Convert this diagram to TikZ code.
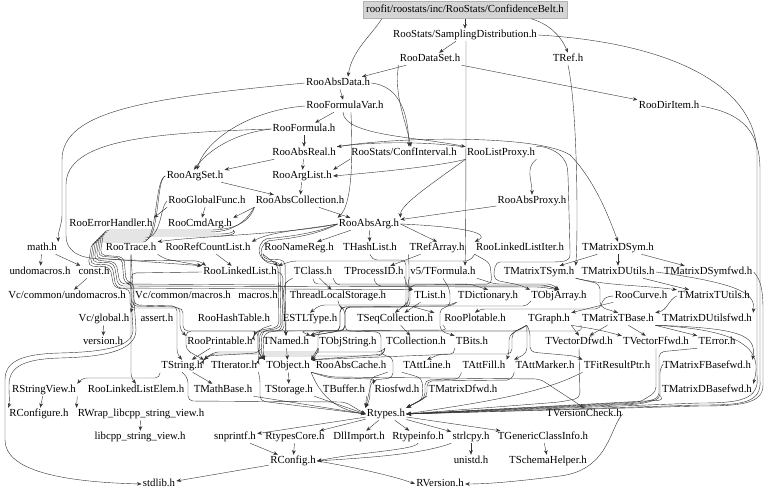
\documentclass[tikz,border=0pt]{standalone}
\usepackage{fontspec}
\setmainfont{Liberation Serif}
\usetikzlibrary{arrows.meta}
\begin{document}
\begin{tikzpicture}[x=1pt,y=-1pt,
  lbl/.style={inner sep=1.2pt,font=\fontsize{10.8}{12}\selectfont,text height=7.4pt,text depth=2.3pt},
  ed/.style={draw=black!80,line width=0.4pt,-{Stealth[length=4.6pt,width=3.6pt]}},
  bd/.style={ed,rounded corners=5pt}]
\useasboundingbox (0,0) rectangle (768,497);
\fill[white] (0,0) rectangle (768,497);
\node[lbl,draw=black!30,fill=black!17,minimum width=204pt,minimum height=17pt] (root) at (465,10) {roofit/roostats/inc/RooStats/ConfidenceBelt.h};
\node[lbl] (samp) at (465,35) {RooStats/SamplingDistribution.h};
\node[lbl] (dataset) at (430,59) {RooDataSet.h};
\node[lbl] (tref) at (568,59) {TRef.h};
\node[lbl] (absdata) at (338,83) {RooAbsData.h};
\node[lbl] (formvar) at (345,106) {RooFormulaVar.h};
\node[lbl] (diritem) at (669,106) {RooDirItem.h};
\node[lbl] (formula) at (304,129) {RooFormula.h};
\node[lbl] (absreal) at (304,153) {RooAbsReal.h};
\node[lbl] (confint) at (404,153) {RooStats/ConfInterval.h};
\node[lbl] (listproxy) at (501,153) {RooListProxy.h};
\node[lbl] (argset) at (195,176) {RooArgSet.h};
\node[lbl] (arglist) at (302,176) {RooArgList.h};
\node[lbl] (globalfunc) at (207,201) {RooGlobalFunc.h};
\node[lbl] (abscoll) at (300,201) {RooAbsCollection.h};
\node[lbl] (absproxy) at (532,201) {RooAbsProxy.h};
\node[lbl] (errhandler) at (111,224) {RooErrorHandler.h};
\node[lbl] (cmdarg) at (200,224) {RooCmdArg.h};
\node[lbl] (absarg) at (369,224) {RooAbsArg.h};
\node[lbl] (math) at (42,248) {math.h};
\node[lbl] (trace) at (131,248) {RooTrace.h};
\node[lbl] (refcount) at (208,248) {RooRefCountList.h};
\node[lbl] (namereg) at (299,248) {RooNameReg.h};
\node[lbl] (hashlist) at (370,248) {THashList.h};
\node[lbl] (refarray) at (437,248) {TRefArray.h};
\node[lbl] (llistiter) at (520,248) {RooLinkedListIter.h};
\node[lbl] (mdsym) at (618,248) {TMatrixDSym.h};
\node[lbl] (undomacros) at (40,272) {undomacros.h};
\node[lbl] (const) at (94,272) {const.h};
\node[lbl] (llist) at (240,272) {RooLinkedList.h};
\node[lbl] (tclass) at (313,272) {TClass.h};
\node[lbl] (procid) at (374,272) {TProcessID.h};
\node[lbl] (tformula) at (443,272) {v5/TFormula.h};
\node[lbl] (mtsym) at (539,272) {TMatrixTSym.h};
\node[lbl] (mdutils) at (618,272) {TMatrixDUtils.h};
\node[lbl] (mdsymfwd) at (708,272) {TMatrixDSymfwd.h};
\node[lbl] (vcundo) at (67,296) {Vc/common/undomacros.h};
\node[lbl] (vcmacros) at (183,296) {Vc/common/macros.h};
\node[lbl] (macros) at (258,296) {macros.h};
\node[lbl] (tls) at (338,296) {ThreadLocalStorage.h};
\node[lbl] (tlist) at (430,296) {TList.h};
\node[lbl] (tdict) at (488,296) {TDictionary.h};
\node[lbl] (tobjarray) at (559,296) {TObjArray.h};
\node[lbl] (curve) at (641,296) {RooCurve.h};
\node[lbl] (mtutils) at (714,296) {TMatrixTUtils.h};
\node[lbl] (vcglobal) at (104,319) {Vc/global.h};
\node[lbl] (assert) at (157,319) {assert.h};
\node[lbl] (hashtable) at (234,319) {RooHashTable.h};
\node[lbl] (estl) at (310,319) {ESTLType.h};
\node[lbl] (seqcoll) at (395,319) {TSeqCollection.h};
\node[lbl] (plotable) at (475,319) {RooPlotable.h};
\node[lbl] (tgraph) at (549,319) {TGraph.h};
\node[lbl] (mtbase) at (618,319) {TMatrixTBase.h};
\node[lbl] (mdutilsfwd) at (707,319) {TMatrixDUtilsfwd.h};
\node[lbl] (version) at (103,342) {version.h};
\node[lbl] (printable) at (220,342) {RooPrintable.h};
\node[lbl] (tnamed) at (286,342) {TNamed.h};
\node[lbl] (objstring) at (348,342) {TObjString.h};
\node[lbl] (tcollection) at (416,342) {TCollection.h};
\node[lbl] (tbits) at (472,342) {TBits.h};
\node[lbl] (vdfwd) at (579,342) {TVectorDfwd.h};
\node[lbl] (vffwd) at (656,342) {TVectorFfwd.h};
\node[lbl] (terror) at (717,342) {TError.h};
\node[lbl] (tstring) at (182,366) {TString.h};
\node[lbl] (titerator) at (234,366) {TIterator.h};
\node[lbl] (tobject) at (288,366) {TObject.h};
\node[lbl] (abscache) at (351,366) {RooAbsCache.h};
\node[lbl] (attline) at (427,366) {TAttLine.h};
\node[lbl] (attfill) at (484,366) {TAttFill.h};
\node[lbl] (attmarker) at (545,366) {TAttMarker.h};
\node[lbl] (fitresptr) at (617,366) {TFitResultPtr.h};
\node[lbl] (mfbasefwd) at (707,366) {TMatrixFBasefwd.h};
\node[lbl] (rstringview) at (44,390) {RStringView.h};
\node[lbl] (llelem) at (136,390) {RooLinkedListElem.h};
\node[lbl] (mathbase) at (223,390) {TMathBase.h};
\node[lbl] (tstorage) at (289,390) {TStorage.h};
\node[lbl] (tbuffer) at (344,390) {TBuffer.h};
\node[lbl] (riosfwd) at (397,390) {Riosfwd.h};
\node[lbl] (mdfwd) at (463,390) {TMatrixDfwd.h};
\node[lbl] (mdbasefwd) at (707,390) {TMatrixDBasefwd.h};
\node[lbl] (rconfigure) at (39,414) {RConfigure.h};
\node[lbl] (rwrap) at (141,414) {RWrap\_libcpp\_string\_view.h};
\node[lbl] (rtypes) at (386,414) {Rtypes.h};
\node[lbl] (versioncheck) at (584,414) {TVersionCheck.h};
\node[lbl] (libcpp) at (140,437) {libcpp\_string\_view.h};
\node[lbl] (snprintf) at (235,437) {snprintf.h};
\node[lbl] (rtypescore) at (295,437) {RtypesCore.h};
\node[lbl] (dllimport) at (359,437) {DllImport.h};
\node[lbl] (rtypeinfo) at (418,437) {Rtypeinfo.h};
\node[lbl] (strlcpy) at (471,437) {strlcpy.h};
\node[lbl] (genclass) at (543,437) {TGenericClassInfo.h};
\node[lbl] (rconfig) at (293,461) {RConfig.h};
\node[lbl] (unistd) at (471,461) {unistd.h};
\node[lbl] (schemahelper) at (548,461) {TSchemaHelper.h};
\node[lbl] (stdlib) at (159,484) {stdlib.h};
\node[lbl] (rversion) at (440,484) {RVersion.h};
% top
\draw[ed] (root) -- (samp);
\draw[ed] ([xshift=19pt]root.south west) .. controls (372,35) and (352,50) .. ([xshift=10pt]absdata.north);
\draw[ed] ([xshift=-36pt]root.south east) .. controls (548,24) and (560,34) .. (tref.north);
\draw[ed] (samp) -- (dataset);
\draw[ed] ([xshift=1pt]samp.south) .. controls (466,130) and (466,235) .. ([xshift=22pt]tformula.north);
\draw[ed] (samp.east) .. controls (660,42) and (752,80) .. (757,150) -- (757,375) .. controls (760,400) and (740,403) .. (700,403) -- (rtypes.east);
\draw[ed] (diritem.east) .. controls (735,112) and (760,125) .. (760,170) -- (760,380) .. controls (762,404) and (740,405) .. (700,405) -- (rtypes.east);
\draw[ed] (dataset) -- (diritem);
\draw[ed] (dataset) -- (absdata);
\draw[ed] (absdata.east) .. controls (398,86) and (408,110) .. ([xshift=5pt]confint.north);
\draw[ed] (dataset.south west) .. controls (394,96) and (405,118) .. ([xshift=7pt]confint.north);
\draw[ed] (absdata) -- (formvar);
\draw[ed] (formvar) -- (formula);
\draw[ed] (formula) -- (absreal);
\draw[ed] (absreal) -- (arglist);
\draw[ed] (arglist) -- (abscoll);
\draw[ed] ([xshift=-2pt]formvar.south) .. controls (344,136) and (420,137) .. (listproxy.north west);
\draw[ed] (formvar.west) .. controls (250,110) and (205,140) .. ([xshift=2pt]argset.north);
\draw[ed] (formula.west) .. controls (235,133) and (208,150) .. ([xshift=-1pt]argset.north);
\draw[ed] (absreal) -- (argset);
\draw[ed] ([xshift=-34pt]formvar.south east) .. controls (353,160) and (352,205) .. (absarg.north west);
\draw[ed] (listproxy.south west) .. controls (440,166) and (380,172) .. (arglist.east);
\draw[ed] ([xshift=-2pt]listproxy.north west) .. controls (420,141) and (370,142) .. (absreal.north east);
\draw[ed] (listproxy.south west) .. controls (430,185) and (400,205) .. (absarg.north east);
\draw[ed] (listproxy.south east) .. controls (525,168) and (532,180) .. (absproxy.north);
\draw[ed] (absproxy) -- (absarg);
\draw[ed] (confint.south west) -- (arglist.north east);
\draw[ed] (argset) -- (abscoll);
\draw[ed] (abscoll) -- (absarg);
\draw[ed] (abscoll.south west) -- (cmdarg.north east);
\draw[ed] (globalfunc) -- (cmdarg);
\draw[ed] (globalfunc.south west) -- (errhandler.north east);
\draw[ed] (absarg) -- (hashlist);
\draw[ed] (absarg) -- (namereg);
\draw[ed] (absarg.east) -- (refarray.north);
\draw[ed] (absarg.east) .. controls (450,226) and (495,232) .. (llistiter.north west);
\draw[ed] (absarg.west) .. controls (300,230) and (270,232) .. (refcount.north east);
\draw[ed] (absarg.west) .. controls (290,234) and (200,236) .. (trace.north east);
\draw[ed] (mdsym) -- (mtsym);
\draw[ed] (mdsym) -- (mdutils);
\draw[ed] (mdsym) -- (mdsymfwd);
\draw[ed] (tref.south) .. controls (578,110) and (578,240) .. (mtsym.north east);
\draw[ed] (absreal.north east) .. controls (400,136) and (540,135) .. (570,155) .. controls (595,180) and (610,220) .. (mdsym.north);
\draw[bd] (listproxy.north east) .. controls (540,145) and (566,150) .. (568,175) -- (570,250) .. controls (570,262) and (560,262) .. (545,262) -- (505,262) .. controls (495,262) and (494,270) .. (494,280) -- (520,285) -- (tobjarray.north west);
% left long
\draw[ed] (absdata.west) .. controls (150,98) and (62,110) .. (62,160) -- (62,215) .. controls (62,225) and (58,230) .. (math.north east);
\draw[bd] (formula.west) .. controls (150,133) and (66,140) .. (66,190) -- (66,230) .. controls (66,255) and (85,259) .. (110,259) -- (llist.north west);
% trunk
\draw[bd] (cmdarg.south east) .. controls (236,232) and (228,234) .. (215,234) -- (100,234) -- (96,258) -- (120,260) -- (200,261) -- ([xshift=4pt]llist.north west);
\draw[bd] (cmdarg.south east) .. controls (238,234) and (228,236) .. (215,236) -- (98,236) -- (94,260) -- (116,262) -- (120,284) -- (283,285) -- (tnamed.north);
\draw[bd] (globalfunc.west) .. controls (160,206) and (162,238) .. (140,238) -- (96,238) -- (92,262) -- (114,263) -- (118,286) -- (540,287) -- (tobjarray.north);
\draw[bd] (argset.west) .. controls (156,178) and (160,240) .. (140,240) -- (94,240) -- (90,264) -- (112,265) -- (116,288) -- (tlist.north west);
\draw[bd] (argset.west) .. controls (154,180) and (158,242) .. (138,242) -- (92,242) -- (88,266) -- (110,267) -- (114,288) -- (130,289) -- (130,308) -- (183,308) -- (183,331) -- (258,331) -- (258,353) -- (tobject.north west);
\draw[bd] (abscoll.south west) .. controls (250,214) and (240,232) .. (205,232) -- (102,232) -- (98,256) -- (122,258) -- (124,283) -- (132,284) -- (132,306) -- (180,307) -- (180,330) -- (printable.north west);
\draw[bd] (abscoll.south west) .. controls (252,216) and (242,230) .. (205,230) -- (104,230) -- (100,255) -- (124,257) -- (126,282) -- (134,283) -- (134,305) -- (177,306) -- (177,354) -- (tstring.north);
\draw[bd] (absarg.west) .. controls (310,236) and (270,238) .. (262,240) -- (258,252) -- (264,261) -- (280,262) -- (281,328) -- (262,331) -- (261,354) -- (tobject.north west);
\draw[bd] (absarg.west) .. controls (312,238) and (272,240) .. (264,242) -- (260,254) -- (266,263) -- (278,264) -- (279,327) -- (255,331) -- (printable.north east);
\draw[bd] (llist.east) -- (283,273) -- (282,330) -- (264,333) -- (263,355) -- (tobject.north west);
% 248 row
\draw[bd] (trace.south east) -- (165,259) -- (llist.north west);
\draw[ed] (refcount) -- (llist);
\draw[bd] (namereg.south west) -- (263,259) -- (285,260) -- (tnamed.north);
\draw[ed] (namereg.south west) -- (llist.north east);
\draw[bd] (hashlist.south) -- (372,260) -- (406,260) -- (406,287) -- (tlist.north west);
\draw[bd] (refarray.south west) -- (409,262) -- (409,302) -- (seqcoll.north);
\draw[ed] (refarray) -- (procid);
\draw[bd] (llistiter.south west) -- (470,261) -- (292,261) -- (llist.north east);
\draw[bd] (llistiter.south west) -- (490,263) -- (492,284) -- (410,285) -- (410,307) -- (345,307) -- (345,331) -- (260,331) -- (259,355) -- (titerator.north east);
% 272 row
\draw[ed] (math) -- (undomacros);
\draw[ed] (math) -- (const);
\draw[ed] (const) -- (vcundo);
\draw[bd] (tclass.south) -- (313,284) -- (470,284) -- (tdict.north);
\draw[ed] (tclass) -- (tls);
\draw[bd] (tclass.south east) -- (335,285) -- (545,285) -- (tobjarray.north);
\draw[bd] (tclass.south west) -- (284,283) -- (284,331) -- (186,331) -- (186,350) -- (tstring.north east);
\draw[bd] (procid.south) -- (376,286) -- (548,286) -- (tobjarray.north);
\draw[bd] (procid.south east) -- (406,281) -- (406,307) -- (340,307) -- (340,331) -- (300,331) -- (tnamed.north east);
\draw[bd] (tformula.south) -- (450,290) -- (450,307) -- (440,308) -- (440,331) -- (tbits.north west);
\draw[bd] (tformula.south east) -- (495,284) -- (552,284) -- (tobjarray.north);
\draw[bd] (tformula.south west) -- (408,282) -- (408,307) -- (345,307) -- (345,330) -- (tnamed.north east);
\draw[bd] (mtsym.south east) -- (600,284) -- (600,307) -- (mtbase.north);
\draw[ed] (mtsym.south east) .. controls (610,286) and (640,285) .. (mtutils.north west);
\draw[ed] (mtutils.west) .. controls (668,300) and (668,310) .. (mtbase.north east);
\draw[ed] (mdutils) -- (mtutils);
\draw[ed] (mdutils.east) .. controls (745,284) and (755,295) .. (mdutilsfwd.north east);
\draw[ed] (mdsymfwd.east) .. controls (762,280) and (763,295) .. (763,310) -- (763,385) .. controls (763,404) and (740,406) .. (700,406) -- (rtypes.east);
% 296 row
\draw[ed] (vcmacros.south west) -- (vcglobal.north east);
\draw[ed] (vcglobal) -- (version);
\draw[ed] (tlist) -- (seqcoll);
\draw[bd] (tdict.south west) -- (452,306) -- (340,307) -- (340,331) -- (tnamed.north east);
\draw[bd] (tdict.south west) -- (450,305) -- (320,305) -- (estl.north);
\draw[bd] (tobjarray.south west) -- (528,306) -- (410,306) -- (seqcoll.north east);
\draw[ed] (curve.south west) -- (tgraph.north east);
\draw[bd] (curve.west) -- (604,297) -- (600,309) -- (480,309) -- (plotable.north);
\draw[bd] (tls.south) -- (338,306) -- (345,309) -- (345,331) -- (381,332) -- (381,355) -- (393,357) -- (393,378) -- (372,380) -- (rtypes.north west);
% 319 row
\draw[ed] (seqcoll) -- (tcollection);
\draw[bd] (hashtable.south east) -- (258,330) -- (258,353) -- (tobject.north west);
\draw[bd] (plotable.south west) -- (448,330) -- (256,331) -- (printable.north east);
\draw[bd] (tgraph.south west) -- (518,331) -- (320,331) -- (tnamed.north east);
\draw[bd] (tgraph.south west) -- (512,333) -- (512,354) -- (440,354) -- (attline.north);
\draw[bd] (tgraph.south west) -- (509,335) -- (509,353) -- (attfill.north east);
\draw[bd] (tgraph.south west) -- (527,331) -- (527,353) -- (attmarker.north west);
\draw[bd] (tgraph.south west) -- (530,331) -- (530,352) -- (575,356) -- (fitresptr.north west);
\draw[ed] (tgraph.south east) -- (vdfwd.north);
\draw[ed] (tgraph.south east) .. controls (600,330) .. (vffwd.north west);
\draw[ed] (mtbase) -- (vdfwd);
\draw[ed] (mtbase) -- (vffwd);
\draw[ed] (mtbase.south east) -- (terror.north west);
\draw[ed] (mtbase.south east) .. controls (740,328) and (757,335) .. (mfbasefwd.north east);
\draw[ed] (mtbase.south east) .. controls (745,330) and (763,350) .. (mdbasefwd.north east);
\draw[bd] (mtbase.south west) -- (583,331) -- (318,331) -- (318,353) -- (tobject.north east);
% 342 row
\draw[ed] (tnamed) -- (tobject);
\draw[bd] (tnamed.south west) -- (258,353) -- (206,356) -- (tstring.north east);
\draw[ed] (objstring.south west) -- (tobject.north east);
\draw[bd] (objstring.south west) -- (320,354) -- (210,354) -- (tstring.north east);
\draw[bd] (tcollection.south west) -- (385,354) -- (tobject.north east);
\draw[bd] (tcollection.south west) -- (383,356) -- (262,356) -- (titerator.north east);
\draw[bd] (tcollection.south west) -- (382,352) -- (214,352) -- (tstring.north east);
\draw[ed] (printable) -- (tstring);
\draw[bd] (tbits.south west) -- (455,354) -- (tobject.north east);
\draw[bd] (vdfwd.south) -- (580,398) -- (560,402) -- (rtypes.east);
\draw[bd] (vffwd.south) -- (656,392) -- (640,402) -- (rtypes.east);
\draw[bd] (terror.south west) -- (659,352) -- (659,398) -- (640,403) -- (rtypes.east);
\draw[bd] (mfbasefwd.west) -- (660,368) -- (660,399) -- (640,404) -- (rtypes.east);
\draw[bd] (mdbasefwd.south west) -- (664,400) -- (rtypes.east);
% 366 row
\draw[ed] (tobject) -- (tstorage);
\draw[ed] (tobject.south east) .. controls (322,400) and (340,410) .. (rtypes.west);
\draw[bd] (tobject.south east) -- (330,378) -- (375,379) -- (riosfwd.north west);
\draw[bd] (tobject.south east) -- (332,377) -- (540,379) -- (versioncheck.north);
\draw[ed] (tstring) -- (mathbase);
\draw[bd] (tstring.south west) -- (160,378) -- (82,378) -- (rstringview.north east);
\draw[bd] (tstring.south) -- (188,378) -- (188,401) -- (345,402) -- (rtypes.west);
\draw[bd] (titerator.south east) -- (260,378) -- (260,401) -- (rtypes.west);
\draw[bd] (abscache.south east) -- (370,378) -- (370,399) -- (rtypes.north west);
\draw[bd] (attline.south west) -- (422,378) -- (423,399) -- (rtypes.north east);
\draw[bd] (attfill.south west) -- (460,379) -- (425,380) -- (425,398) -- (rtypes.north east);
\draw[bd] (attmarker.south west) -- (512,380) -- (427,381) -- (427,397) -- (rtypes.north east);
\draw[ed] (fitresptr.south west) .. controls (540,395) and (470,404) .. (rtypes.east);
\draw[ed] (mdfwd.south west) -- (rtypes.north east);
\draw[bd] (llist.west) -- (131,273) -- (131,378) -- (llelem.north);
% 390 row
\draw[ed] (rstringview) -- (rconfigure);
\draw[ed] (rstringview.south east) -- (rwrap.north west);
\draw[ed] (rwrap) -- (libcpp);
\draw[ed] (mathbase.south east) -- (rtypes.west);
\draw[ed] (tstorage.south east) -- (rtypes.west);
\draw[ed] (tbuffer.south east) -- (rtypes.north west);
% Rtypes and below
\draw[ed] (rtypes) -- (snprintf);
\draw[ed] (rtypes) -- (rtypescore);
\draw[ed] (rtypes) -- (dllimport);
\draw[ed] (rtypes) -- (rtypeinfo);
\draw[ed] (rtypes) -- (strlcpy);
\draw[ed] (rtypes) -- (genclass);
\draw[ed] (rtypeinfo.south) .. controls (415,450) and (360,452) .. (rconfig.east);
\draw[ed] (strlcpy.south west) .. controls (420,455) and (360,458) .. (rconfig.east);
\draw[ed] (rtypescore) -- (rconfig);
\draw[ed] (snprintf) -- (rconfig);
\draw[ed] (strlcpy) -- (unistd);
\draw[ed] (genclass) -- (schemahelper);
\draw[ed] (rconfig) -- (stdlib);
\draw[ed] (rconfig.east) .. controls (360,468) and (400,478) .. (rversion.west);
\draw[ed] (versioncheck.east) .. controls (610,425) and (610,470) .. (560,476) .. controls (520,481) and (490,484) .. (rversion.east);
% left loops
\draw[ed] (trace.south) .. controls (130,290) and (132,310) .. (133,330) .. controls (133,348) and (100,352) .. (60,353) .. controls (20,354) and (5,362) .. (5,380) -- (5,440) .. controls (5,470) and (60,482) .. (stdlib.west);
\draw[ed] (trace.south) .. controls (133,292) and (135,312) .. (136,330) .. controls (136,352) and (100,357) .. (60,358) .. controls (25,359) and (9,366) .. (9,385) .. controls (9,398) and (10,403) .. (rconfigure.north west);
\end{tikzpicture}
\end{document}
